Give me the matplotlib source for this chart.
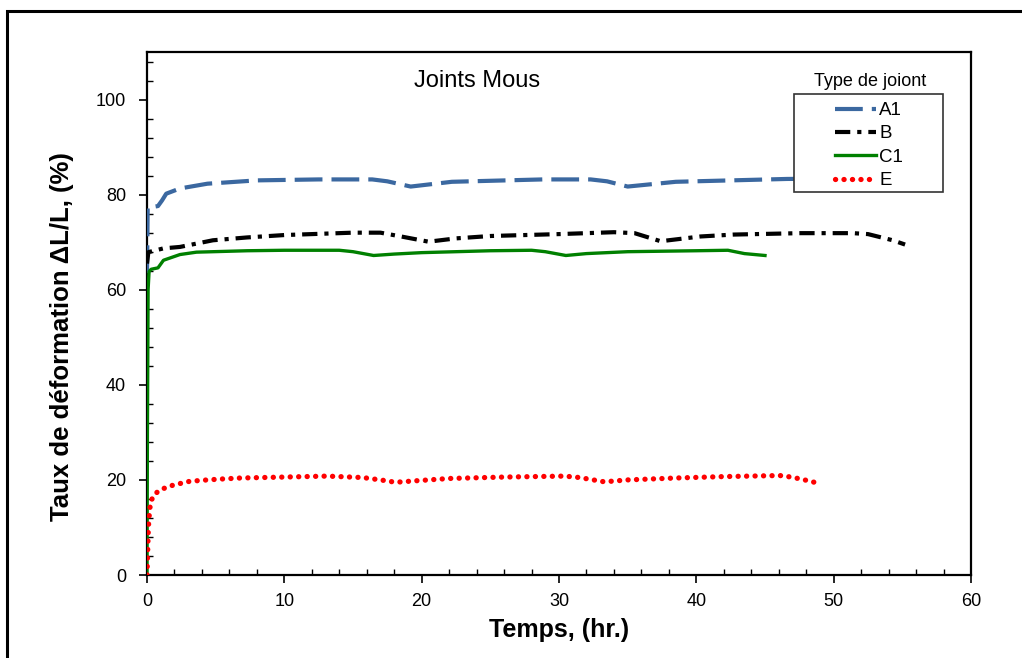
import matplotlib
matplotlib.use("Agg")
import matplotlib.pyplot as plt
from matplotlib.patches import Rectangle
from matplotlib.ticker import MultipleLocator

plt.rcParams['font.family'] = ['Liberation Sans', 'DejaVu Sans']
plt.rcParams['lines.scale_dashes'] = False

# ---- data ----
t_A1 = [0, 0.05, 0.4, 0.8, 1.1, 1.4, 2.4, 4.4, 8, 12.5, 16.4, 17.5, 19.2, 22.2,
        28.8, 32.3, 33.5, 35, 38.5, 46.6, 52, 55]
A1 = [63.5, 77.3, 77.4, 77.6, 78.8, 80.2, 81.3, 82.3, 83.0, 83.2, 83.2, 82.8, 81.7, 82.7,
      83.2, 83.2, 82.8, 81.7, 82.7, 83.3, 83.4, 83.4]

t_B = [0, 0.1, 1.2, 2.4, 4.8, 7.3, 10, 15, 17, 18.5, 20.5, 22.5, 25, 30, 34, 35.5,
       37.4, 40.3, 42.7, 47.6, 51.4, 52.5, 54.3, 55.2]
B = [65.5, 67.9, 68.7, 69.0, 70.4, 71.0, 71.5, 72.0, 72.0, 71.2, 70.1, 70.8, 71.3, 71.7,
     72.1, 71.9, 70.2, 71.2, 71.6, 71.9, 71.9, 71.7, 70.4, 69.5]

t_C1 = [0, 0.03, 0.08, 0.15, 0.3, 0.8, 1.2, 2.4, 3.6, 7.3, 10, 14, 15, 16.5, 18, 20,
        25, 28, 29, 30.5, 32, 35, 40, 42.3, 43.5, 45]
C1 = [0, 30, 60, 63.8, 64.3, 64.6, 66.2, 67.4, 67.9, 68.2, 68.3, 68.3, 68.0, 67.2, 67.5,
      67.8, 68.2, 68.3, 68.0, 67.2, 67.6, 68.0, 68.2, 68.3, 67.6, 67.2]

t_E = [0, 0.05, 0.1, 0.2, 0.4, 0.8, 1.3, 1.9, 2.5, 3.1, 4.4, 5.5, 6.8, 10, 13.1, 15.7,
       17, 18.1, 19.5, 22, 26, 30.4, 31.5, 33.3, 35, 38.5, 42, 45.7, 46.3, 47.6, 48.6]
E = [0, 5, 10, 14, 16.4, 17.6, 18.3, 18.9, 19.3, 19.7, 20.0, 20.2, 20.4, 20.6, 20.8, 20.5,
     20.0, 19.5, 19.8, 20.3, 20.6, 20.8, 20.5, 19.6, 20.0, 20.4, 20.7, 20.9, 20.9, 20.2, 19.5]

labels = ['A1', 'B', 'C1', 'E']
x_ticks = [0, 10, 20, 30, 40, 50, 60]
y_ticks = [0, 20, 40, 60, 80, 100]

W, H = 1022, 658
fig = plt.figure(figsize=(W / 100, H / 100), dpi=100)
ax = fig.add_axes([147 / W, 1 - 575 / H, (971 - 147) / W, (575 - 52) / H])

blue = '#3b68a0'
styles = [
    dict(color=blue, lw=3.0, dashes=(20, 6.5), dash_capstyle='butt'),
    dict(color='black', lw=3.0, dashes=(11, 5, 3, 5), dash_capstyle='butt'),
    dict(color='#008000', lw=2.4, linestyle='-'),
    dict(color='#ff0000', lw=3.8, dashes=(0.1, 6.0), dash_capstyle='round'),
]
series = [(t_A1, A1), (t_B, B), (t_C1, C1), (t_E, E)]
handles = []
for (tx, ty), st, lab in zip(series, styles, labels):
    ln, = ax.plot(tx, ty, label=lab, zorder=3, **st)
    handles.append(ln)

ax.set_xlim(0, 60)
ax.set_ylim(0, 110)
ax.set_xticks(x_ticks)
ax.set_yticks(y_ticks)
ax.xaxis.set_minor_locator(MultipleLocator(2))
ax.yaxis.set_minor_locator(MultipleLocator(4))
ax.tick_params(which='major', direction='out', length=6, width=1.2, labelsize=13)
ax.tick_params(axis='y', which='major', pad=9)
ax.tick_params(axis='x', which='major', pad=7)
ax.tick_params(which='minor', direction='in', length=4, width=1.0)
for sp in ax.spines.values():
    sp.set_linewidth(1.6)

ax.set_xlabel('Temps, (hr.)', fontsize=18, fontweight='bold', labelpad=6)
ax.set_ylabel('Taux de déformation ΔL/L, (%)', fontsize=18.5, fontweight='bold')
ax.yaxis.set_label_coords(-0.088, 0.455)

ax.text(24, 104, 'Joints Mous', ha='center', va='center', fontsize=17)

# legend frame (drawn separately, title sits above the box)
box = Rectangle((794 / W, 1 - 192 / H), (943 - 794) / W, (192 - 94) / H,
                transform=fig.transFigure, facecolor='white', edgecolor='#333333',
                lw=1.2, zorder=4, clip_on=False)
ax.add_patch(box)
leg = ax.legend(handles, labels, loc='upper left',
                bbox_to_anchor=(835 / W, 1 - 102 / H), bbox_transform=fig.transFigure,
                frameon=False, borderpad=0, borderaxespad=0, handlelength=2.2,
                handletextpad=0.15, labelspacing=0.33, fontsize=13.5)
leg.set_zorder(5)
fig.text(870 / W, 1 - 82 / H, 'Type de joiont', ha='center', va='center', fontsize=13)

# outer border
fig.add_artist(Rectangle((7 / W, -0.1), 1.2, (1 - 11 / H) + 0.1, transform=fig.transFigure,
                         fill=False, lw=2.2, edgecolor='black'))

fig.savefig('out.png', dpi=100)
